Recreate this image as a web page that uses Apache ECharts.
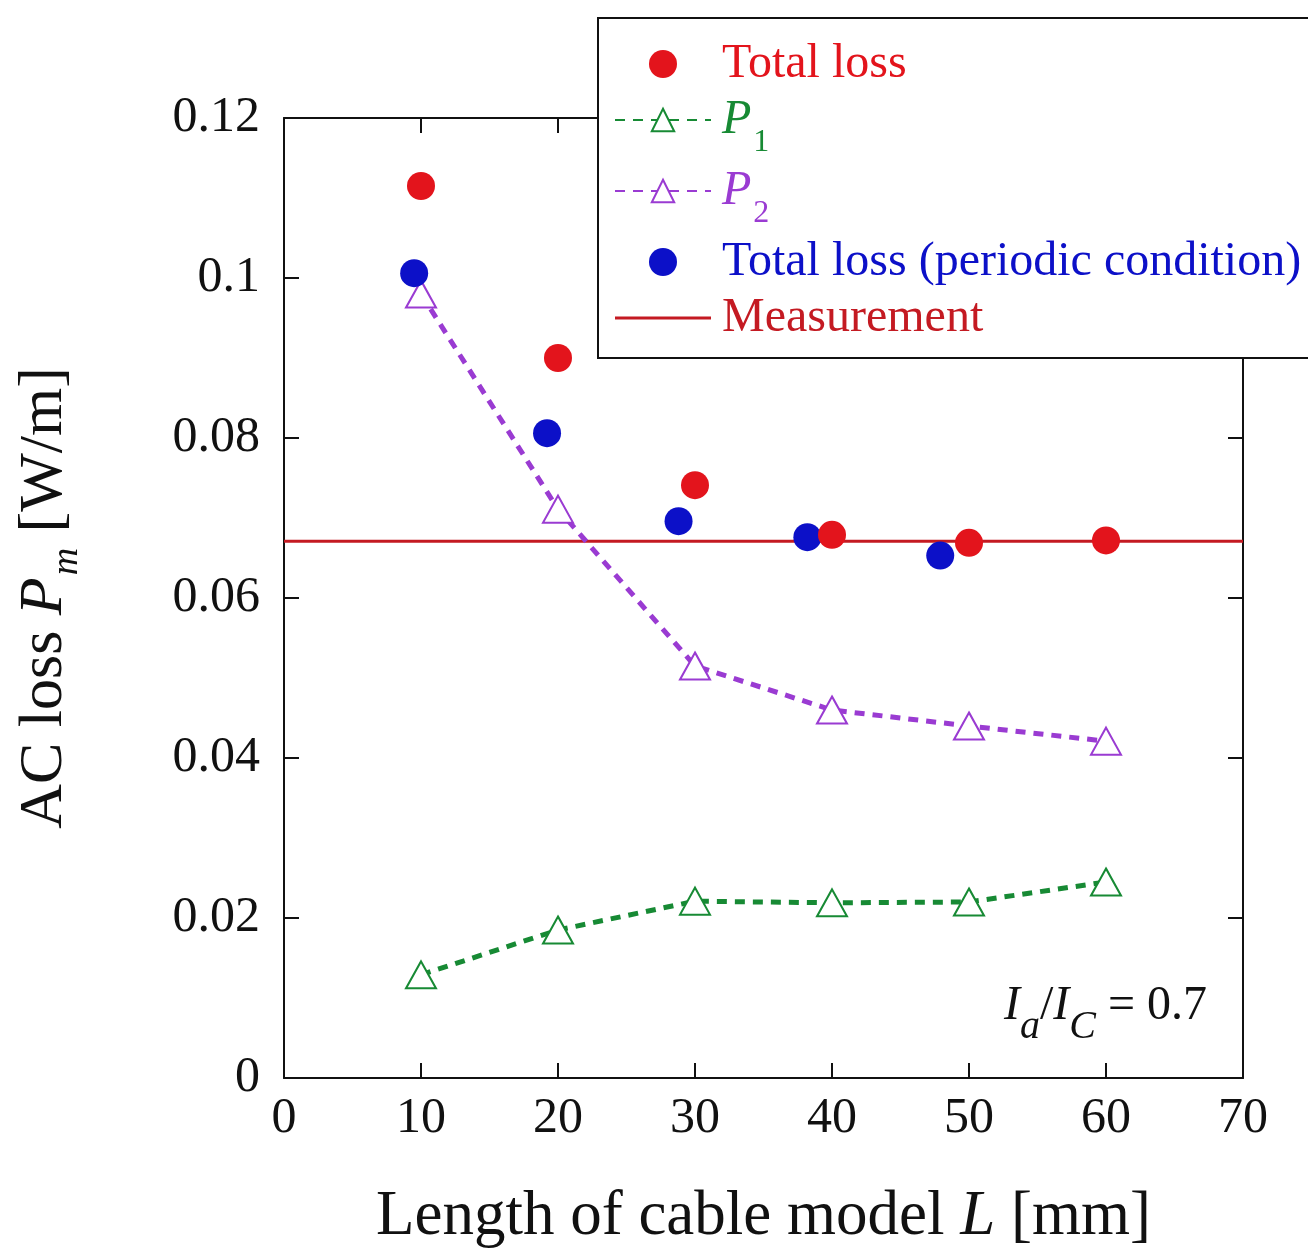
<!DOCTYPE html>
<html>
<head>
<meta charset="utf-8">
<script src="https://cdn.jsdelivr.net/npm/echarts@6/dist/echarts.min.js"></script>
<style>
  html, body { margin: 0; padding: 0; background: #fff; }
  #chart { width: 1308px; height: 1255px; }
</style>
</head>
<body>
<div id="chart"></div>
<script>
// cable model length [mm]
const lengths = [10, 20, 30, 40, 50, 60]
const totalLoss = [0.1115, 0.0900, 0.0741, 0.0679, 0.0669, 0.0672]
const p1Loss = [0.0129, 0.0185, 0.0221, 0.0219, 0.0220, 0.0245]
const p2Loss = [0.0980, 0.0711, 0.0515, 0.0460, 0.0440, 0.0421]
// periodic condition points sit slightly left of the nominal lengths
const periodicLengths = [9.5, 19.2, 28.8, 38.2, 47.9]
const periodicLoss = [0.1006, 0.0806, 0.0696, 0.0676, 0.0653]
const measuredLoss = 0.0671
const xRange = [0, 70]
const yRange = [0, 0.12]

const FONT = 'Liberation Serif'
const RED = '#e3141c'
const BLUE = '#0c10c8'
const GREEN = '#178a34'
const PURPLE = '#9a3bd2'
const LINE_RED = '#c41a22'

const pairs = (xs, ys) => xs.map((x, i) => [x, ys[i]])

const chart = echarts.init(document.getElementById('chart'))

const subRich = {
  i: { fontStyle: 'italic', fontFamily: FONT, fontSize: 48 },
  s: { fontFamily: FONT, fontSize: 32, padding: [46, 0, 0, 2] }
}

const legendLabels = {
  'P1': '{i|P}{s|1}',
  'P2': '{i|P}{s|2}'
}

function plainAxis(pos, isX) {
  return {
    type: 'value',
    position: pos,
    min: isX ? xRange[0] : yRange[0],
    max: isX ? xRange[1] : yRange[1],
    interval: isX ? 10 : 0.02,
    axisLine: { show: true, onZero: false, lineStyle: { color: '#111', width: 2 } },
    axisTick: { show: true, inside: true, length: 15, lineStyle: { color: '#111', width: 2 } },
    axisLabel: { show: false },
    splitLine: { show: false }
  }
}

const option = {
  backgroundColor: '#fff',
  animation: false,
  grid: { left: 284, top: 118, right: 65, bottom: 177 },
  xAxis: [
    {
      ...plainAxis('bottom', true),
      axisLabel: { show: true, margin: 16, fontFamily: FONT, fontSize: 50, color: '#111' },
      name: 'Length of cable model {i|L} [mm]',
      nameLocation: 'middle',
      nameGap: 108,
      nameTextStyle: {
        fontFamily: FONT, fontSize: 63, color: '#111',
        rich: { i: { fontFamily: FONT, fontSize: 63, fontStyle: 'italic', color: '#111' } }
      }
    },
    plainAxis('top', true)
  ],
  yAxis: [
    {
      ...plainAxis('left', false),
      axisLabel: { show: true, margin: 24, fontFamily: FONT, fontSize: 50, color: '#111' },
      name: 'AC loss {i|P}{s|m} [W/m]',
      nameLocation: 'middle',
      nameRotate: 90,
      nameGap: 198,
      nameTextStyle: {
        fontFamily: FONT, fontSize: 62, color: '#111',
        rich: {
          i: { fontFamily: FONT, fontSize: 62, fontStyle: 'italic', color: '#111' },
          s: { fontFamily: FONT, fontSize: 38, fontStyle: 'italic', color: '#111', padding: [44, 0, 0, 2] }
        }
      }
    },
    plainAxis('right', false)
  ],
  legend: {
    orient: 'vertical',
    left: 598,
    top: 18,
    padding: [22, 16, 16, 16],
    itemGap: 8,
    itemWidth: 96,
    itemHeight: 28,
    backgroundColor: '#fff',
    borderColor: '#111',
    borderWidth: 2,
    borderRadius: 0,
    formatter: name => legendLabels[name] || name,
    textStyle: { fontFamily: FONT, fontSize: 48, padding: [0, 0, 0, 6], rich: subRich },
    data: [
      { name: 'Total loss', textStyle: { color: RED } },
      { name: 'P1', textStyle: { color: GREEN } },
      { name: 'P2', textStyle: { color: PURPLE } },
      { name: 'Total loss (periodic condition)', textStyle: { color: BLUE } },
      { name: 'Measurement', icon: 'path://M0 0H96V3H0Z', itemStyle: { color: LINE_RED }, textStyle: { color: LINE_RED } }
    ]
  },
  graphic: [
    {
      type: 'text',
      left: 1004,
      top: 982,
      style: {
        text: '{i|I}{s|a}{n|/}{i|I}{s|C}{n| = 0.7}',
        fill: '#111',
        rich: {
          i: { fontFamily: FONT, fontSize: 48, fontStyle: 'italic' },
          s: { fontFamily: FONT, fontSize: 40, fontStyle: 'italic', padding: [42, 0, 0, 0] },
          n: { fontFamily: FONT, fontSize: 48 }
        }
      }
    }
  ],
  series: [
    {
      name: 'Total loss',
      type: 'scatter',
      z: 5,
      symbol: 'circle',
      symbolSize: 28,
      itemStyle: { color: RED, opacity: 1 },
      data: pairs(lengths, totalLoss)
    },
    {
      name: 'P1',
      type: 'line',
      z: 3,
      symbol: 'triangle',
      symbolSize: [30, 27],
      showAllSymbol: true,
      lineStyle: { color: GREEN, width: 5, type: [10, 8] },
      itemStyle: { color: '#fff', borderColor: GREEN, borderWidth: 2 },
      data: pairs(lengths, p1Loss)
    },
    {
      name: 'P2',
      type: 'line',
      z: 3,
      symbol: 'triangle',
      symbolSize: [30, 27],
      showAllSymbol: true,
      lineStyle: { color: PURPLE, width: 5, type: [10, 8] },
      itemStyle: { color: '#fff', borderColor: PURPLE, borderWidth: 2 },
      data: pairs(lengths, p2Loss)
    },
    {
      name: 'Total loss (periodic condition)',
      type: 'scatter',
      z: 4,
      symbol: 'circle',
      symbolSize: 28,
      itemStyle: { color: BLUE, opacity: 1 },
      data: pairs(periodicLengths, periodicLoss)
    },
    {
      name: 'Measurement',
      type: 'line',
      z: 2,
      symbol: 'none',
      lineStyle: { color: LINE_RED, width: 3 },
      itemStyle: { color: LINE_RED },
      data: [[xRange[0], measuredLoss], [xRange[1], measuredLoss]]
    }
  ]
}

chart.setOption(option)
</script>
</body>
</html>
